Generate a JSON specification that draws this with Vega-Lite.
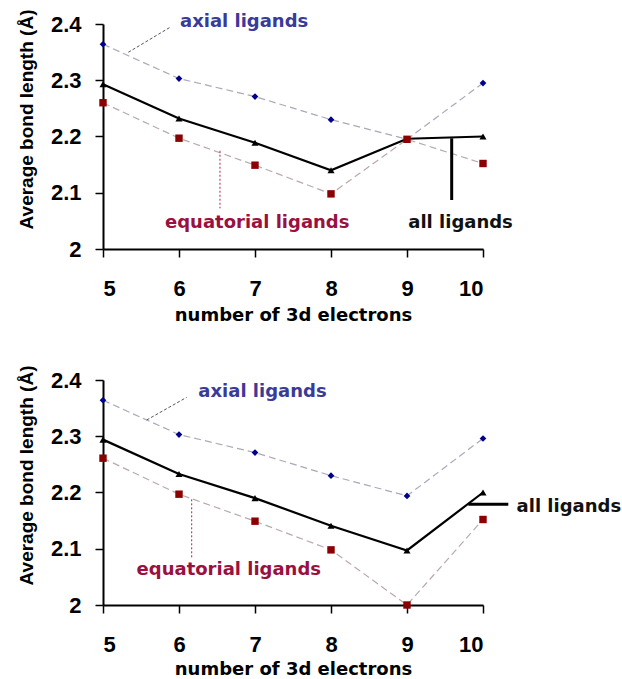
{
  "$schema": "https://vega.github.io/schema/vega-lite/v6.json",
  "padding": {"left": 16, "top": 9, "right": 0, "bottom": 0},
  "background": "white",
  "config": {
    "view": {"stroke": null},
    "axis": {
      "grid": false,
      "domainColor": "black",
      "domainWidth": 2,
      "tickColor": "black",
      "tickWidth": 1.5,
      "tickSize": 8,
      "labelFont": "Liberation Sans",
      "labelFontWeight": "bold",
      "labelFontSize": 22,
      "labelColor": "black",
      "titleColor": "black",
      "titleFontWeight": "bold"
    }
  },
  "datasets": {
    "series": [
      {"panel": "top", "series": "axial", "n": 5, "v": 2.364},
      {"panel": "top", "series": "axial", "n": 6, "v": 2.303},
      {"panel": "top", "series": "axial", "n": 7, "v": 2.271},
      {"panel": "top", "series": "axial", "n": 8, "v": 2.230},
      {"panel": "top", "series": "axial", "n": 9, "v": 2.195},
      {"panel": "top", "series": "axial", "n": 10, "v": 2.295},
      {"panel": "top", "series": "all", "n": 5, "v": 2.293},
      {"panel": "top", "series": "all", "n": 6, "v": 2.232},
      {"panel": "top", "series": "all", "n": 7, "v": 2.189},
      {"panel": "top", "series": "all", "n": 8, "v": 2.140},
      {"panel": "top", "series": "all", "n": 9, "v": 2.196},
      {"panel": "top", "series": "all", "n": 10, "v": 2.200},
      {"panel": "top", "series": "equatorial", "n": 5, "v": 2.260},
      {"panel": "top", "series": "equatorial", "n": 6, "v": 2.197},
      {"panel": "top", "series": "equatorial", "n": 7, "v": 2.149},
      {"panel": "top", "series": "equatorial", "n": 8, "v": 2.098},
      {"panel": "top", "series": "equatorial", "n": 9, "v": 2.195},
      {"panel": "top", "series": "equatorial", "n": 10, "v": 2.152},
      {"panel": "bottom", "series": "axial", "n": 5, "v": 2.364},
      {"panel": "bottom", "series": "axial", "n": 6, "v": 2.303},
      {"panel": "bottom", "series": "axial", "n": 7, "v": 2.271},
      {"panel": "bottom", "series": "axial", "n": 8, "v": 2.230},
      {"panel": "bottom", "series": "axial", "n": 9, "v": 2.194},
      {"panel": "bottom", "series": "axial", "n": 10, "v": 2.296},
      {"panel": "bottom", "series": "all", "n": 5, "v": 2.294},
      {"panel": "bottom", "series": "all", "n": 6, "v": 2.233},
      {"panel": "bottom", "series": "all", "n": 7, "v": 2.190},
      {"panel": "bottom", "series": "all", "n": 8, "v": 2.141},
      {"panel": "bottom", "series": "all", "n": 9, "v": 2.097},
      {"panel": "bottom", "series": "all", "n": 10, "v": 2.200},
      {"panel": "bottom", "series": "equatorial", "n": 5, "v": 2.261},
      {"panel": "bottom", "series": "equatorial", "n": 6, "v": 2.197},
      {"panel": "bottom", "series": "equatorial", "n": 7, "v": 2.149},
      {"panel": "bottom", "series": "equatorial", "n": 8, "v": 2.098},
      {"panel": "bottom", "series": "equatorial", "n": 9, "v": 2.000},
      {"panel": "bottom", "series": "equatorial", "n": 10, "v": 2.152}
    ],
    "leaders": [
      {"panel": "top", "kind": "axial", "x": 5.333, "y": 2.3497, "x2": 5.882, "y2": 2.3941},
      {"panel": "top", "kind": "equatorial", "x": 6.539, "y": 2.1747, "x2": 6.539, "y2": 2.0723},
      {"panel": "top", "kind": "all", "x": 9.588, "y": 2.1968, "x2": 9.588, "y2": 2.0871},
      {"panel": "bottom", "kind": "axial", "x": 5.575, "y": 2.3289, "x2": 6.101, "y2": 2.3692},
      {"panel": "bottom", "kind": "equatorial", "x": 6.167, "y": 2.1879, "x2": 6.167, "y2": 2.083},
      {"panel": "bottom", "kind": "all", "x": 9.807, "y": 2.179, "x2": 10.333, "y2": 2.179}
    ],
    "labels": [
      {"panel": "top", "kind": "axial", "text": "axial ligands", "x": 6.013, "y": 2.394},
      {"panel": "top", "kind": "equatorial", "text": "equatorial ligands", "x": 5.816, "y": 2.0373},
      {"panel": "top", "kind": "all", "text": "all ligands", "x": 9.017, "y": 2.038},
      {"panel": "bottom", "kind": "axial", "text": "axial ligands", "x": 6.254, "y": 2.369},
      {"panel": "bottom", "kind": "equatorial", "text": "equatorial ligands", "x": 5.442, "y": 2.053},
      {"panel": "bottom", "kind": "all", "text": "all ligands", "x": 10.442, "y": 2.166}
    ]
  },
  "vconcat": [
    {
      "width": 380,
      "height": 225,
      "layer": [
        {
          "data": {"name": "series"},
          "transform": [{"filter": "datum.panel === 'top' && datum.series !== 'all'"}],
          "mark": {"type": "line", "strokeDash": [7, 4], "strokeWidth": 1.2},
          "encoding": {
            "x": {"field": "n", "type": "quantitative", "scale": {"domain": [5, 10], "nice": false, "zero": false},
              "axis": {"values": [5, 6, 7, 8, 9, 10], "format": "d", "title": "number of 3d electrons", "titleFont": "DejaVu Sans", "titleFontSize": 18, "labelPadding": 21, "titleY": 57, "titleBaseline": "top"}},
            "y": {"field": "v", "type": "quantitative", "scale": {"domain": [2, 2.4], "nice": false, "zero": false},
              "axis": {"values": [2, 2.1, 2.2, 2.3, 2.4], "format": ".1~f", "labelPadding": 14, "title": "Average bond length (Å)", "titleFont": "Liberation Sans", "titleFontSize": 19, "titleX": -67, "titleY": 95}},
            "detail": {"field": "series"},
            "color": {"field": "series", "type": "nominal", "scale": {"domain": ["axial", "equatorial"], "range": ["#a9a9bb", "#bba9a9"]}, "legend": null}
          }
        },
        {
          "data": {"name": "series"},
          "transform": [{"filter": "datum.panel === 'top' && datum.series === 'all'"}],
          "mark": {"type": "line", "color": "black", "strokeWidth": 2.2},
          "encoding": {
            "x": {"field": "n", "type": "quantitative"},
            "y": {"field": "v", "type": "quantitative"}
          }
        },
        {
          "data": {"name": "leaders"},
          "transform": [{"filter": "datum.panel === 'top' && datum.kind === 'axial'"}],
          "mark": {"type": "rule", "color": "#555566", "strokeWidth": 1, "strokeDash": [3, 2]},
          "encoding": {
            "x": {"field": "x", "type": "quantitative"},
            "y": {"field": "y", "type": "quantitative"},
            "x2": {"field": "x2"},
            "y2": {"field": "y2"}
          }
        },
        {
          "data": {"name": "leaders"},
          "transform": [{"filter": "datum.panel === 'top' && datum.kind === 'equatorial'"}],
          "mark": {"type": "rule", "color": "#b02050", "strokeWidth": 1, "strokeDash": [2, 2]},
          "encoding": {
            "x": {"field": "x", "type": "quantitative"},
            "y": {"field": "y", "type": "quantitative"},
            "x2": {"field": "x2"},
            "y2": {"field": "y2"}
          }
        },
        {
          "data": {"name": "leaders"},
          "transform": [{"filter": "datum.panel === 'top' && datum.kind === 'all'"}],
          "mark": {"type": "rule", "color": "black", "strokeWidth": 3},
          "encoding": {
            "x": {"field": "x", "type": "quantitative"},
            "y": {"field": "y", "type": "quantitative"},
            "x2": {"field": "x2"},
            "y2": {"field": "y2"}
          }
        },
        {
          "data": {"name": "series"},
          "transform": [{"filter": "datum.panel === 'top'"}],
          "mark": {"type": "point", "filled": true, "opacity": 1},
          "encoding": {
            "x": {"field": "n", "type": "quantitative"},
            "y": {"field": "v", "type": "quantitative"},
            "shape": {"field": "series", "type": "nominal", "scale": {"domain": ["axial", "all", "equatorial"], "range": ["diamond", "triangle-up", "square"]}, "legend": null},
            "fill": {"field": "series", "type": "nominal", "scale": {"domain": ["axial", "all", "equatorial"], "range": ["#00008b", "#000000", "#8b0000"]}, "legend": null},
            "size": {"field": "series", "type": "nominal", "scale": {"domain": ["axial", "all", "equatorial"], "range": [45, 55, 60]}, "legend": null}
          }
        },
        {
          "data": {"name": "labels"},
          "transform": [{"filter": "datum.panel === 'top'"}],
          "mark": {"type": "text", "align": "left", "baseline": "alphabetic", "font": "DejaVu Sans", "fontWeight": "bold", "fontSize": 18},
          "encoding": {
            "x": {"field": "x", "type": "quantitative"},
            "y": {"field": "y", "type": "quantitative"},
            "text": {"field": "text"},
            "color": {"field": "kind", "type": "nominal", "scale": {"domain": ["axial", "equatorial", "all"], "range": ["#3a3a9a", "#9a1040", "#111111"]}, "legend": null}
          }
        }
      ],
      "resolve": {"scale": {"color": "independent"}}
    },
    {
      "width": 380,
      "height": 225,
      "layer": [
        {
          "data": {"name": "series"},
          "transform": [{"filter": "datum.panel === 'bottom' && datum.series !== 'all'"}],
          "mark": {"type": "line", "strokeDash": [7, 4], "strokeWidth": 1.2},
          "encoding": {
            "x": {"field": "n", "type": "quantitative", "scale": {"domain": [5, 10], "nice": false, "zero": false},
              "axis": {"values": [5, 6, 7, 8, 9, 10], "format": "d", "title": "number of 3d electrons", "titleFont": "DejaVu Sans", "titleFontSize": 18, "labelPadding": 21, "titleY": 55, "titleBaseline": "top"}},
            "y": {"field": "v", "type": "quantitative", "scale": {"domain": [2, 2.4], "nice": false, "zero": false},
              "axis": {"values": [2, 2.1, 2.2, 2.3, 2.4], "format": ".1~f", "labelPadding": 14, "title": "Average bond length (Å)", "titleFont": "Liberation Sans", "titleFontSize": 19, "titleX": -67, "titleY": 95}},
            "detail": {"field": "series"},
            "color": {"field": "series", "type": "nominal", "scale": {"domain": ["axial", "equatorial"], "range": ["#a9a9bb", "#bba9a9"]}, "legend": null}
          }
        },
        {
          "data": {"name": "series"},
          "transform": [{"filter": "datum.panel === 'bottom' && datum.series === 'all'"}],
          "mark": {"type": "line", "color": "black", "strokeWidth": 2.2},
          "encoding": {
            "x": {"field": "n", "type": "quantitative"},
            "y": {"field": "v", "type": "quantitative"}
          }
        },
        {
          "data": {"name": "leaders"},
          "transform": [{"filter": "datum.panel === 'bottom' && datum.kind === 'axial'"}],
          "mark": {"type": "rule", "color": "#555566", "strokeWidth": 1, "strokeDash": [3, 2]},
          "encoding": {
            "x": {"field": "x", "type": "quantitative"},
            "y": {"field": "y", "type": "quantitative"},
            "x2": {"field": "x2"},
            "y2": {"field": "y2"}
          }
        },
        {
          "data": {"name": "leaders"},
          "transform": [{"filter": "datum.panel === 'bottom' && datum.kind === 'equatorial'"}],
          "mark": {"type": "rule", "color": "#b02050", "strokeWidth": 1, "strokeDash": [2, 2]},
          "encoding": {
            "x": {"field": "x", "type": "quantitative"},
            "y": {"field": "y", "type": "quantitative"},
            "x2": {"field": "x2"},
            "y2": {"field": "y2"}
          }
        },
        {
          "data": {"name": "leaders"},
          "transform": [{"filter": "datum.panel === 'bottom' && datum.kind === 'all'"}],
          "mark": {"type": "rule", "color": "black", "strokeWidth": 3},
          "encoding": {
            "x": {"field": "x", "type": "quantitative"},
            "y": {"field": "y", "type": "quantitative"},
            "x2": {"field": "x2"},
            "y2": {"field": "y2"}
          }
        },
        {
          "data": {"name": "series"},
          "transform": [{"filter": "datum.panel === 'bottom'"}],
          "mark": {"type": "point", "filled": true, "opacity": 1},
          "encoding": {
            "x": {"field": "n", "type": "quantitative"},
            "y": {"field": "v", "type": "quantitative"},
            "shape": {"field": "series", "type": "nominal", "scale": {"domain": ["axial", "all", "equatorial"], "range": ["diamond", "triangle-up", "square"]}, "legend": null},
            "fill": {"field": "series", "type": "nominal", "scale": {"domain": ["axial", "all", "equatorial"], "range": ["#00008b", "#000000", "#8b0000"]}, "legend": null},
            "size": {"field": "series", "type": "nominal", "scale": {"domain": ["axial", "all", "equatorial"], "range": [45, 55, 60]}, "legend": null}
          }
        },
        {
          "data": {"name": "labels"},
          "transform": [{"filter": "datum.panel === 'bottom'"}],
          "mark": {"type": "text", "align": "left", "baseline": "alphabetic", "font": "DejaVu Sans", "fontWeight": "bold", "fontSize": 18},
          "encoding": {
            "x": {"field": "x", "type": "quantitative"},
            "y": {"field": "y", "type": "quantitative"},
            "text": {"field": "text"},
            "color": {"field": "kind", "type": "nominal", "scale": {"domain": ["axial", "equatorial", "all"], "range": ["#3a3a9a", "#9a1040", "#111111"]}, "legend": null}
          }
        }
      ],
      "resolve": {"scale": {"color": "independent"}}
    }
  ],
  "bounds": "flush",
  "spacing": 131
}
